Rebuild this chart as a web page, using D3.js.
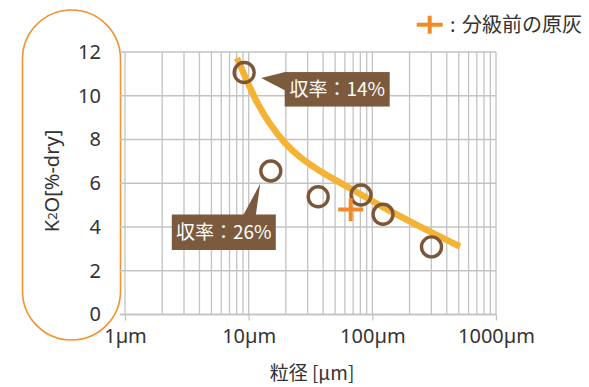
<!DOCTYPE html>
<html>
<head>
<meta charset="utf-8">
<script src="https://cdn.jsdelivr.net/npm/d3@7"></script>
<style>
  html, body { margin: 0; padding: 0; background: #fff; }
  svg { display: block; font-family: "Noto Sans CJK JP", "Noto Sans", sans-serif; }
</style>
</head>
<body>
<svg id="chart" width="589" height="387"></svg>
<script>
// Particle size [µm] vs K2O content [%-dry] of each classified fraction
const sizes = [9.2, 15.1, 36.5, 81, 122, 301];
const k2o = [11.06, 6.56, 5.38, 5.46, 4.58, 3.09];

// Raw ash before classification
const rawSize = [66.8];
const rawK2O = [4.8];

// Trend curve through the fractions
const trendSize = [8.05, 9.88, 11.9, 14.9, 19.7, 26.0, 37.7, 54.8, 79.5, 122, 230, 512];
const trendK2O = [11.73, 10.58, 9.62, 8.71, 7.84, 7.2, 6.56, 6.03, 5.51, 4.91, 4.09, 3.11];

// Yield callouts (index into the fraction arrays)
const yieldLabels = ["収率：14%", "収率：26%"];
const yieldIndex = [0, 1];

const xTicks = [1, 10, 100, 1000];
const xTickLabels = ["1µm", "10µm", "100µm", "1000µm"];
const yTicks = [0, 2, 4, 6, 8, 10, 12];

const svg = d3.select("#chart");
const x = d3.scaleLog().domain([1, 1000]).range([125, 496]);
const y = d3.scaleLinear().domain([0, 12]).range([314.5, 52]);

const gridColor = "#c3c3c3";
const textColor = "#333";

// Rounded frame around the vertical axis
svg.append("rect")
  .attr("x", 22.5).attr("y", 10).attr("width", 98).attr("height", 330)
  .attr("rx", 49).attr("ry", 49)
  .attr("fill", "none").attr("stroke", "#f39230").attr("stroke-width", 1.6);

// Vertical log grid: every 1..9 multiple of each decade
const minor = [];
for (let d = 1; d < 1000; d *= 10) for (let k = 1; k < 10; k++) minor.push(d * k);
minor.push(1000);
svg.append("g").selectAll("line").data(minor).join("line")
  .attr("x1", d => x(d)).attr("x2", d => x(d))
  .attr("y1", y(12)).attr("y2", y(0))
  .attr("stroke", gridColor).attr("stroke-width", 1.3);

// Horizontal grid
svg.append("g").selectAll("line").data(yTicks).join("line")
  .attr("x1", 120).attr("x2", x(1000))
  .attr("y1", d => y(d)).attr("y2", d => y(d))
  .attr("stroke", gridColor).attr("stroke-width", 1.3);

// Bottom axis with decade ticks
const xAxis = d3.axisBottom(x).tickValues(xTicks)
  .tickFormat((d, i) => xTickLabels[i]).tickSize(6).tickSizeOuter(0).tickPadding(8);
const gx = svg.append("g").attr("transform", `translate(0,${y(0)})`).call(xAxis);
gx.select(".domain").attr("stroke", gridColor).attr("stroke-width", 1.3)
  .attr("d", `M120,0H${x(1000)}`);
gx.selectAll(".tick line").attr("stroke", gridColor).attr("stroke-width", 1.3);
gx.selectAll(".tick text").attr("fill", textColor).attr("font-size", 20)
  .attr("font-family", "'Noto Sans', 'Noto Sans CJK JP', sans-serif");

// Left tick labels
const yAxis = d3.axisLeft(y).tickValues(yTicks).tickSize(0).tickPadding(0);
const gy = svg.append("g").attr("transform", "translate(101,0)").call(yAxis);
gy.select(".domain").remove();
gy.selectAll(".tick text").attr("fill", textColor).attr("font-size", 20)
  .attr("font-family", "'Noto Sans', 'Noto Sans CJK JP', sans-serif");

// Axis titles
const yTitle = svg.append("text")
  .attr("transform", "translate(59,181) rotate(-90)")
  .attr("text-anchor", "middle").attr("fill", textColor).attr("font-size", 20)
  .attr("font-family", "'Noto Sans', 'Noto Sans CJK JP', sans-serif");
yTitle.append("tspan").text("K");
yTitle.append("tspan").attr("font-size", 13).attr("dy", -2).text("2");
yTitle.append("tspan").attr("dy", 2).text("O[%-dry]");

svg.append("text")
  .attr("x", 312).attr("y", 380).attr("text-anchor", "middle")
  .attr("fill", textColor).attr("font-size", 19)
  .text("粒径 [µm]");

// Trend curve
const trend = trendSize.map((d, i) => [d, trendK2O[i]]);
svg.append("path")
  .datum(trend)
  .attr("d", d3.line().x(d => x(d[0])).y(d => y(d[1])).curve(d3.curveCatmullRom.alpha(0.5)))
  .attr("fill", "none").attr("stroke", "#f5b335").attr("stroke-width", 6.5)
  .attr("stroke-linecap", "butt");

// Fraction markers
const pts = sizes.map((d, i) => [d, k2o[i]]);
svg.append("g").selectAll("circle").data(pts).join("circle")
  .attr("cx", d => x(d[0])).attr("cy", d => y(d[1])).attr("r", 10)
  .attr("fill", "none").attr("stroke", "#7b5639").attr("stroke-width", 3.4);

// Raw ash marker (+)
const crossColor = "#f28a28";
function cross(g, cx, cy, hw, hh) {
  g.append("line").attr("x1", cx - hw).attr("x2", cx + hw).attr("y1", cy).attr("y2", cy)
    .attr("stroke", crossColor).attr("stroke-width", 4);
  g.append("line").attr("x1", cx).attr("x2", cx).attr("y1", cy - hh).attr("y2", cy + hh)
    .attr("stroke", crossColor).attr("stroke-width", 4);
}
rawSize.forEach((d, i) => cross(svg, x(d), y(rawK2O[i]), 12.5, 11.5));

// Yield callouts
const boxColor = "#7c5a3e";
function callout(i, text, box, tip) {
  const px = x(sizes[yieldIndex[i]]), py = y(k2o[yieldIndex[i]]);
  const g = svg.append("g");
  g.append("path")
    .attr("d", d3.line()(tip(px, py)))
    .attr("fill", boxColor);
  const b = box(px, py);
  g.append("rect").attr("x", b[0]).attr("y", b[1]).attr("width", b[2]).attr("height", b[3])
    .attr("fill", boxColor);
  g.append("text").attr("x", b[0] + b[2] / 2).attr("y", b[1] + b[3] / 2 + 7)
    .attr("text-anchor", "middle").attr("fill", "#fff").attr("font-size", 19)
    .text(text);
}
// Box to the right of the first point, pointer aiming back at it
callout(0, yieldLabels[0],
  (px, py) => [px + 40.5, py - 0.5, 105, 34.5],
  (px, py) => [[px + 17, py + 5.5], [px + 41, py - 0.5], [px + 41, py + 18]]);
// Box below-left of the second point, pointer rising to it
callout(1, yieldLabels[1],
  (px, py) => [px - 99, py + 43.5, 104, 35.5],
  (px, py) => [[px - 10.5, py + 12.5], [px - 27.5, py + 44], [px - 15, py + 44]]);

// Legend
const lg = svg.append("g");
cross(lg, 429.7, 24.7, 13, 9);
lg.append("text").attr("x", 450).attr("y", 32).attr("fill", textColor).attr("font-size", 20)
  .text(":");
lg.append("text").attr("x", 582).attr("y", 32).attr("text-anchor", "end")
  .attr("fill", textColor).attr("font-size", 20)
  .text("分級前の原灰");
</script>
</body>
</html>
